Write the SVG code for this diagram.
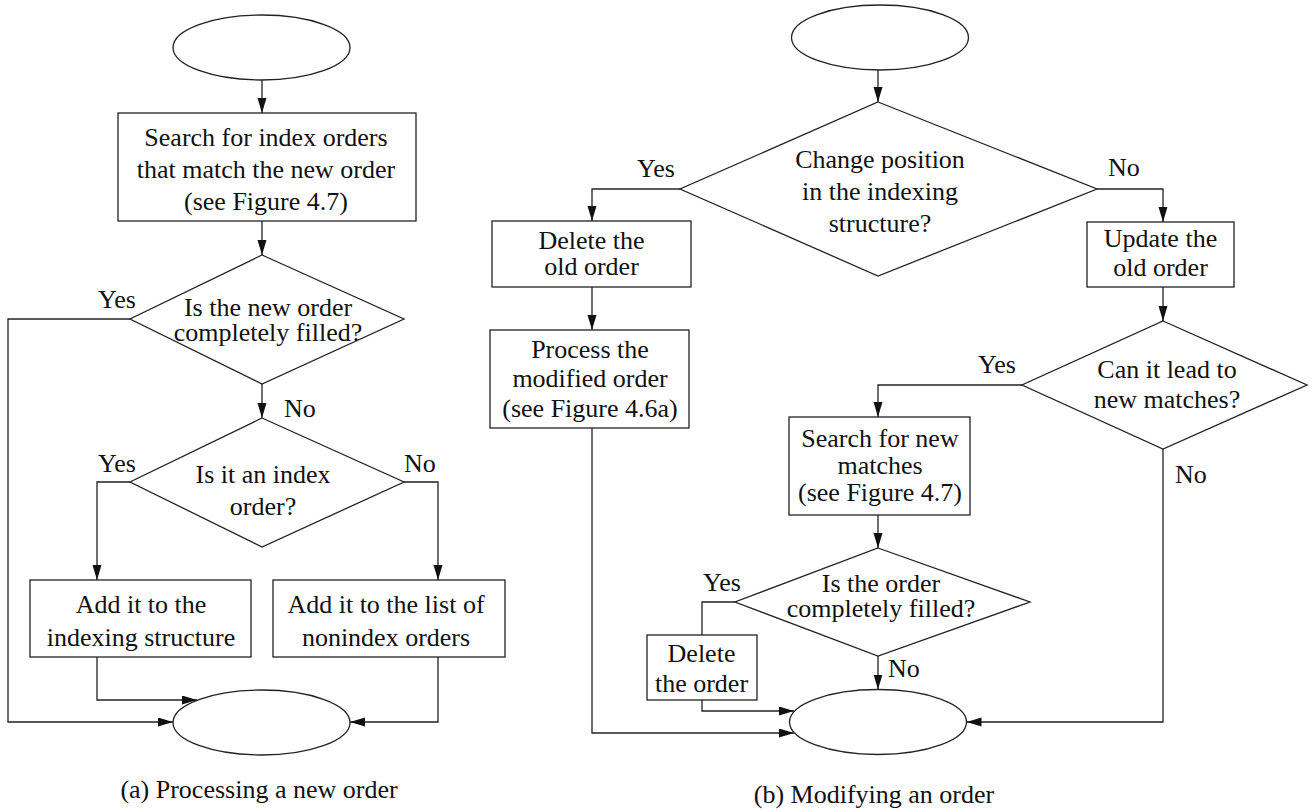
<svg xmlns="http://www.w3.org/2000/svg" width="1314" height="812" viewBox="0 0 1314 812" font-family="'Liberation Serif', 'DejaVu Serif', serif">
  <style>
    .shape { fill: #ffffff; stroke: #222222; stroke-width: 1.3; }
    .conn { fill: none; stroke: #222222; stroke-width: 1.3; }
    .t { font-family: 'Liberation Serif', 'DejaVu Serif', serif; font-size: 26px; fill: #111111; }
    .c { text-anchor: middle; }
  </style>
  <defs>
    <marker id="arrow" markerUnits="userSpaceOnUse" markerWidth="16" markerHeight="10" refX="15" refY="4.5" orient="auto">
      <path d="M0,0 L15,4.5 L0,9 z" fill="#111111"/>
    </marker>
  </defs>

  <rect width="1314" height="812" fill="#ffffff"/>

  <!-- ===== (a) Processing a new order ===== -->
  <g id="a-start"><ellipse class="shape" cx="261.5" cy="47.5" rx="88.5" ry="32.5"/></g>
  <g id="a-search" class="t" font-family="Liberation Serif, serif">
    <rect class="shape" x="118" y="113" width="298" height="108"/>
    <text class="c" x="266" y="146">Search for index orders</text>
    <text class="c" x="266" y="178">that match the new order</text>
    <text class="c" x="266" y="210">(see Figure 4.7)</text>
  </g>
  <g id="a-filled" class="t" font-family="Liberation Serif, serif">
    <polygon class="shape" points="262,255 404,319 262,384 130,319"/>
    <text class="c" x="268" y="316">Is the new order</text>
    <text class="c" x="268" y="341">completely filled?</text>
  </g>
  <g id="a-index" class="t" font-family="Liberation Serif, serif">
    <polygon class="shape" points="262,418 404,482 262,547 130,482"/>
    <text class="c" x="263" y="483">Is it an index</text>
    <text class="c" x="263" y="515">order?</text>
  </g>
  <g id="a-add-index" class="t" font-family="Liberation Serif, serif">
    <rect class="shape" x="30" y="580" width="221" height="77"/>
    <text class="c" x="141" y="613">Add it to the</text>
    <text class="c" x="141" y="646">indexing structure</text>
  </g>
  <g id="a-add-list" class="t" font-family="Liberation Serif, serif">
    <rect class="shape" x="273" y="580" width="232" height="77"/>
    <text class="c" x="386" y="613">Add it to the list of</text>
    <text class="c" x="386" y="646">nonindex orders</text>
  </g>
  <g id="a-end"><ellipse class="shape" cx="261.5" cy="722.5" rx="88.5" ry="32.5"/></g>

  <!-- ===== (b) Modifying an order ===== -->
  <g id="b-start"><ellipse class="shape" cx="880" cy="37.5" rx="88.5" ry="32.5"/></g>
  <g id="b-position" class="t" font-family="Liberation Serif, serif">
    <polygon class="shape" points="878,102 1097,189 878,276 680,189"/>
    <text class="c" x="880" y="168">Change position</text>
    <text class="c" x="880" y="200">in the indexing</text>
    <text class="c" x="880" y="232">structure?</text>
  </g>
  <g id="b-delete-old" class="t" font-family="Liberation Serif, serif">
    <rect class="shape" x="492" y="221" width="199" height="66"/>
    <text class="c" x="591.5" y="249">Delete the</text>
    <text class="c" x="591.5" y="275">old order</text>
  </g>
  <g id="b-process" class="t" font-family="Liberation Serif, serif">
    <rect class="shape" x="490" y="330" width="199" height="98"/>
    <text class="c" x="590" y="358">Process the</text>
    <text class="c" x="590" y="387">modified order</text>
    <text class="c" x="590" y="417">(see Figure 4.6a)</text>
  </g>
  <g id="b-update" class="t" font-family="Liberation Serif, serif">
    <rect class="shape" x="1087" y="222" width="147" height="65"/>
    <text class="c" x="1160.5" y="247">Update the</text>
    <text class="c" x="1160.5" y="276">old order</text>
  </g>
  <g id="b-lead" class="t" font-family="Liberation Serif, serif">
    <polygon class="shape" points="1163,321 1307,385 1163,449 1022,385"/>
    <text class="c" x="1167" y="378">Can it lead to</text>
    <text class="c" x="1167" y="408">new matches?</text>
  </g>
  <g id="b-search" class="t" font-family="Liberation Serif, serif">
    <rect class="shape" x="789" y="417" width="181" height="98"/>
    <text class="c" x="880" y="447">Search for new</text>
    <text class="c" x="880" y="474">matches</text>
    <text class="c" x="880" y="501">(see Figure 4.7)</text>
  </g>
  <g id="b-filled" class="t" font-family="Liberation Serif, serif">
    <polygon class="shape" points="878,548 1030,602 878,656 735,602"/>
    <text class="c" x="881" y="592">Is the order</text>
    <text class="c" x="881" y="617">completely filled?</text>
  </g>
  <g id="b-delete" class="t" font-family="Liberation Serif, serif">
    <rect class="shape" x="647" y="635" width="110" height="65"/>
    <text class="c" x="701.5" y="662">Delete</text>
    <text class="c" x="701.5" y="692">the order</text>
  </g>
  <g id="b-end"><ellipse class="shape" cx="878" cy="722" rx="88.5" ry="32.5"/></g>

  <!-- ===== connectors ===== -->
  <g id="connectors">
    <polyline class="conn" points="262,80 262,113" marker-end="url(#arrow)"/>
    <polyline class="conn" points="262,221 262,255" marker-end="url(#arrow)"/>
    <polyline class="conn" points="130,319 8,319 8,722 173,722" marker-end="url(#arrow)"/>
    <polyline class="conn" points="262,384 262,418" marker-end="url(#arrow)"/>
    <polyline class="conn" points="130,482 97,482 97,580" marker-end="url(#arrow)"/>
    <polyline class="conn" points="404,482 438,482 438,580" marker-end="url(#arrow)"/>
    <polyline class="conn" points="97,657 97,700 197,700" marker-end="url(#arrow)"/>
    <polyline class="conn" points="438,657 438,722 350,722" marker-end="url(#arrow)"/>

    <polyline class="conn" points="878,70 878,102" marker-end="url(#arrow)"/>
    <polyline class="conn" points="680,189 592,189 592,221" marker-end="url(#arrow)"/>
    <polyline class="conn" points="592,287 592,330" marker-end="url(#arrow)"/>
    <polyline class="conn" points="592,428 592,733 794,733" marker-end="url(#arrow)"/>
    <polyline class="conn" points="1097,189 1163,189 1163,222" marker-end="url(#arrow)"/>
    <polyline class="conn" points="1163,287 1163,321" marker-end="url(#arrow)"/>
    <polyline class="conn" points="1022,385 878,385 878,417" marker-end="url(#arrow)"/>
    <polyline class="conn" points="1163,449 1163,722 966.5,722" marker-end="url(#arrow)"/>
    <polyline class="conn" points="878,515 878,548" marker-end="url(#arrow)"/>
    <polyline class="conn" points="735,602 702,602 702,635"/>
    <polyline class="conn" points="702,700 702,711 794,711" marker-end="url(#arrow)"/>
    <polyline class="conn" points="878,656 878,689.5" marker-end="url(#arrow)"/>
  </g>

  <!-- branch labels -->
  <g id="labels" class="t" font-family="Liberation Serif, serif">
    <text x="98" y="308">Yes</text>
    <text x="284" y="417">No</text>
    <text x="98" y="472">Yes</text>
    <text x="404" y="472">No</text>
    <text x="637" y="177">Yes</text>
    <text x="1108" y="176">No</text>
    <text x="978" y="373">Yes</text>
    <text x="1175" y="483">No</text>
    <text x="703" y="591">Yes</text>
    <text x="888" y="677">No</text>
  </g>

  <!-- captions -->
  <g id="captions" class="t" font-family="Liberation Serif, serif">
    <text class="c" x="259" y="798">(a) Processing a new order</text>
    <text class="c" x="874" y="803">(b) Modifying an order</text>
  </g>
</svg>
